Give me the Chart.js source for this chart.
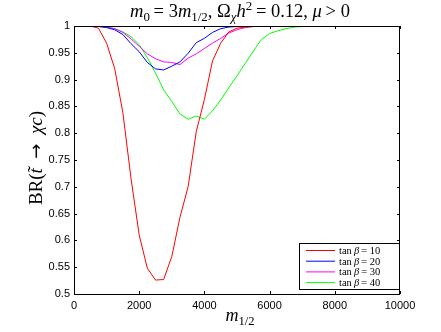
<!DOCTYPE html>
<html>
<head>
<meta charset="utf-8">
<script src="https://cdn.jsdelivr.net/npm/chart.js@4"></script>
<style>
  html, body { margin: 0; padding: 0; background: #fff; }
  #wrap { width: 441px; height: 332px; position: relative; }
</style>
</head>
<body>
<div id="wrap"><canvas id="myChart"></canvas></div>
<script>
// m_1/2 values (x axis)
const m12 = [500, 750, 1000, 1250, 1500, 1750, 2000, 2250, 2500, 2750, 3000, 3250, 3500, 3750, 4000,
    4250, 4500, 4750, 5000, 5250, 5500, 5750, 6000, 6250, 6500, 6750, 7000, 8000, 9000, 10000];

const br10 = [1.0, 0.996, 0.968, 0.92, 0.838, 0.715, 0.61, 0.548, 0.526, 0.527, 0.570, 0.643, 0.700, 0.803, 0.863,
    0.935, 0.968, 0.989, 0.996, 0.998, 0.999, 1.0, 1.0, 1.0, 1.0, 1.0, 1.0, 1.0, 1.0, 1.0];
const br20 = [1.0, 0.999, 0.997, 0.993, 0.984, 0.967, 0.952, 0.932, 0.920, 0.918, 0.925, 0.933, 0.949, 0.969, 0.977,
    0.988, 0.995, 0.998, 0.999, 1.0, 1.0, 1.0, 1.0, 1.0, 1.0, 1.0, 1.0, 1.0, 1.0, 1.0];
const br30 = [1.0, 1.0, 0.998, 0.995, 0.988, 0.976, 0.962, 0.948, 0.939, 0.933, 0.932, 0.928, 0.940, 0.948, 0.958,
    0.968, 0.977, 0.987, 0.993, 0.997, 0.999, 1.0, 1.0, 1.0, 1.0, 1.0, 1.0, 1.0, 1.0, 1.0];
const br40 = [1.0, 1.0, 0.998, 0.995, 0.989, 0.980, 0.965, 0.941, 0.912, 0.881, 0.859, 0.836, 0.826, 0.832, 0.826,
    0.842, 0.862, 0.885, 0.907, 0.930, 0.953, 0.975, 0.986, 0.991, 0.995, 0.998, 0.999, 1.0, 1.0, 1.0];

const seriesNames = ['10', '20', '30', '40'];
const seriesColors = ['#ff0000', '#0000ff', '#ff00ff', '#00ff00'];
const xTicks = [0, 2000, 4000, 6000, 8000, 10000];

const SERIF = '"Liberation Serif", "DejaVu Serif", serif';
const SANS = '"Liberation Sans", Arial, sans-serif';

function pts(ys) {
    return ys.map((y, i) => ({ x: m12[i], y: y }));
}

// rich text: segments [text, style]  style: r, i, sub, isub, sup, arr
function segFont(st, size) {
    if (st == 'arr') return (size * 0.95) + 'px "DejaVu Sans", sans-serif';
    let sz = (st == 'sub' || st == 'isub' || st == 'sup') ? size * 0.7 : size;
    let it = (st == 'i' || st == 'isub') ? 'italic ' : '';
    return it + sz + 'px ' + SERIF;
}
function richWidth(ctx, segs, size) {
    let w = 0;
    segs.forEach(s => { ctx.font = segFont(s[1], size); w += ctx.measureText(s[0]).width; });
    return w;
}
function drawRich(ctx, segs, x, y, size) {
    let cx = x;
    ctx.textAlign = 'left';
    ctx.textBaseline = 'alphabetic';
    segs.forEach(s => {
        ctx.font = segFont(s[1], size);
        let dy = 0;
        if (s[1] == 'sub' || s[1] == 'isub') dy = size * 0.22;
        if (s[1] == 'sup') dy = -size * 0.38;
        ctx.fillText(s[0], cx, y + dy);
        cx += ctx.measureText(s[0]).width;
    });
}

const titleSegs = [['m', 'i'], ['0', 'sub'], ['\u2009= 3', 'r'], ['m', 'i'], ['1/2', 'sub'], [', Ω', 'r'],
    ['χ', 'isub'], ['h', 'i'], ['2', 'sup'], ['\u2009= 0.12, ', 'r'], ['μ', 'i'], ['\u2009> 0', 'r']];
const xLabelSegs = [['m', 'i'], ['1/2', 'sub']];
const yLabelSegs = [['BR(', 'r'], ['t\u0303', 'i'], ['\u2002', 'r'], ['→', 'arr'], ['\u2002', 'r'], ['χc', 'i'], [')', 'r']];

const decor = {
    id: 'decor',
    afterDraw(chart) {
        const ctx = chart.ctx;
        const a = chart.chartArea;
        const xs = chart.scales.x, ys = chart.scales.y;
        ctx.save();
        ctx.strokeStyle = '#000';
        ctx.lineWidth = 1;
        ctx.strokeRect(a.left + 0.5, a.top + 0.5, a.right - a.left - 1, a.bottom - a.top);
        // inward ticks
        ctx.beginPath();
        xs.ticks.forEach(t => {
            let p = Math.round(xs.getPixelForValue(t.value)) + 0.5;
            ctx.moveTo(p, a.bottom); ctx.lineTo(p, a.bottom - 3);
            ctx.moveTo(p, a.top); ctx.lineTo(p, a.top + 3);
        });
        ys.ticks.forEach(t => {
            let p = Math.round(ys.getPixelForValue(t.value)) + 0.5;
            ctx.moveTo(a.left, p); ctx.lineTo(a.left + 3, p);
            ctx.moveTo(a.right, p); ctx.lineTo(a.right - 3, p);
        });
        ctx.stroke();

        ctx.fillStyle = '#000';
        let cxm = (a.left + a.right) / 2 + 3;
        let tw = richWidth(ctx, titleSegs, 18.5);
        drawRich(ctx, titleSegs, cxm - tw / 2, 17, 18.5);
        let xw = richWidth(ctx, xLabelSegs, 18);
        drawRich(ctx, xLabelSegs, cxm - xw / 2, 321, 18);
        ctx.save();
        ctx.translate(42, (a.top + a.bottom) / 2 - 2);
        ctx.rotate(-Math.PI / 2);
        let yw = richWidth(ctx, yLabelSegs, 19);
        drawRich(ctx, yLabelSegs, -yw / 2, 0, 19);
        ctx.restore();

        // legend
        const lx = 299, ly = 243, lw = 100, lh = 46;
        ctx.fillStyle = '#fff';
        ctx.fillRect(lx, ly, lw, lh);
        ctx.strokeStyle = '#000';
        ctx.strokeRect(lx + 0.5, ly + 0.5, lw, lh);
        seriesNames.forEach((nm, i) => {
            let yy = ly + 7.5 + i * 10.7;
            ctx.strokeStyle = seriesColors[i];
            ctx.lineWidth = 1;
            ctx.beginPath();
            ctx.moveTo(lx + 7, yy);
            ctx.lineTo(lx + 36, yy);
            ctx.stroke();
            ctx.fillStyle = '#000';
            drawRich(ctx, [['tan\u2009', 'r'], ['β', 'i'], ['\u2009= ' + nm, 'r']], lx + 40, yy + 3.5, 10.5);
        });
        ctx.restore();
    }
};

const data = {
    datasets: [
        { label: 'tanβ = 10', data: pts(br10), borderColor: seriesColors[0] },
        { label: 'tanβ = 20', data: pts(br20), borderColor: seriesColors[1] },
        { label: 'tanβ = 30', data: pts(br30), borderColor: seriesColors[2] },
        { label: 'tanβ = 40', data: pts(br40), borderColor: seriesColors[3] },
    ]
};
data.datasets.forEach(d => {
    d.borderWidth = 1;
    d.pointRadius = 0;
    d.fill = false;
    d.tension = 0;
});

const config = {
    type: 'line',
    data: data,
    options: {
        responsive: false,
        animation: false,
        layout: { padding: { left: 0, top: 26, right: 41, bottom: 0 } },
        plugins: { legend: { display: false }, tooltip: { enabled: false } },
        scales: {
            x: {
                type: 'linear', min: 0, max: 10000,
                afterFit: s => { s.height = 38; },
                afterBuildTicks: s => { s.ticks = xTicks.map(v => ({ value: v })); },
                grid: { display: false, drawTicks: false },
                border: { display: false },
                ticks: {
                    padding: 5, color: '#000', maxRotation: 0,
                    font: { family: SANS, size: 11 },
                    callback: v => String(v)
                }
            },
            y: {
                type: 'linear', min: 0.5, max: 1,
                afterFit: s => { s.width = 74; },
                grid: { display: false, drawTicks: false },
                border: { display: false },
                ticks: {
                    stepSize: 0.05, padding: 4, color: '#000',
                    font: { family: SANS, size: 11 },
                    callback: v => String(Number(v.toFixed(2)))
                }
            }
        }
    },
    plugins: [decor]
};

const cv = document.getElementById('myChart');
cv.width = 441;
cv.height = 332;
const myChart = new Chart(cv, config);
</script>
</body>
</html>
